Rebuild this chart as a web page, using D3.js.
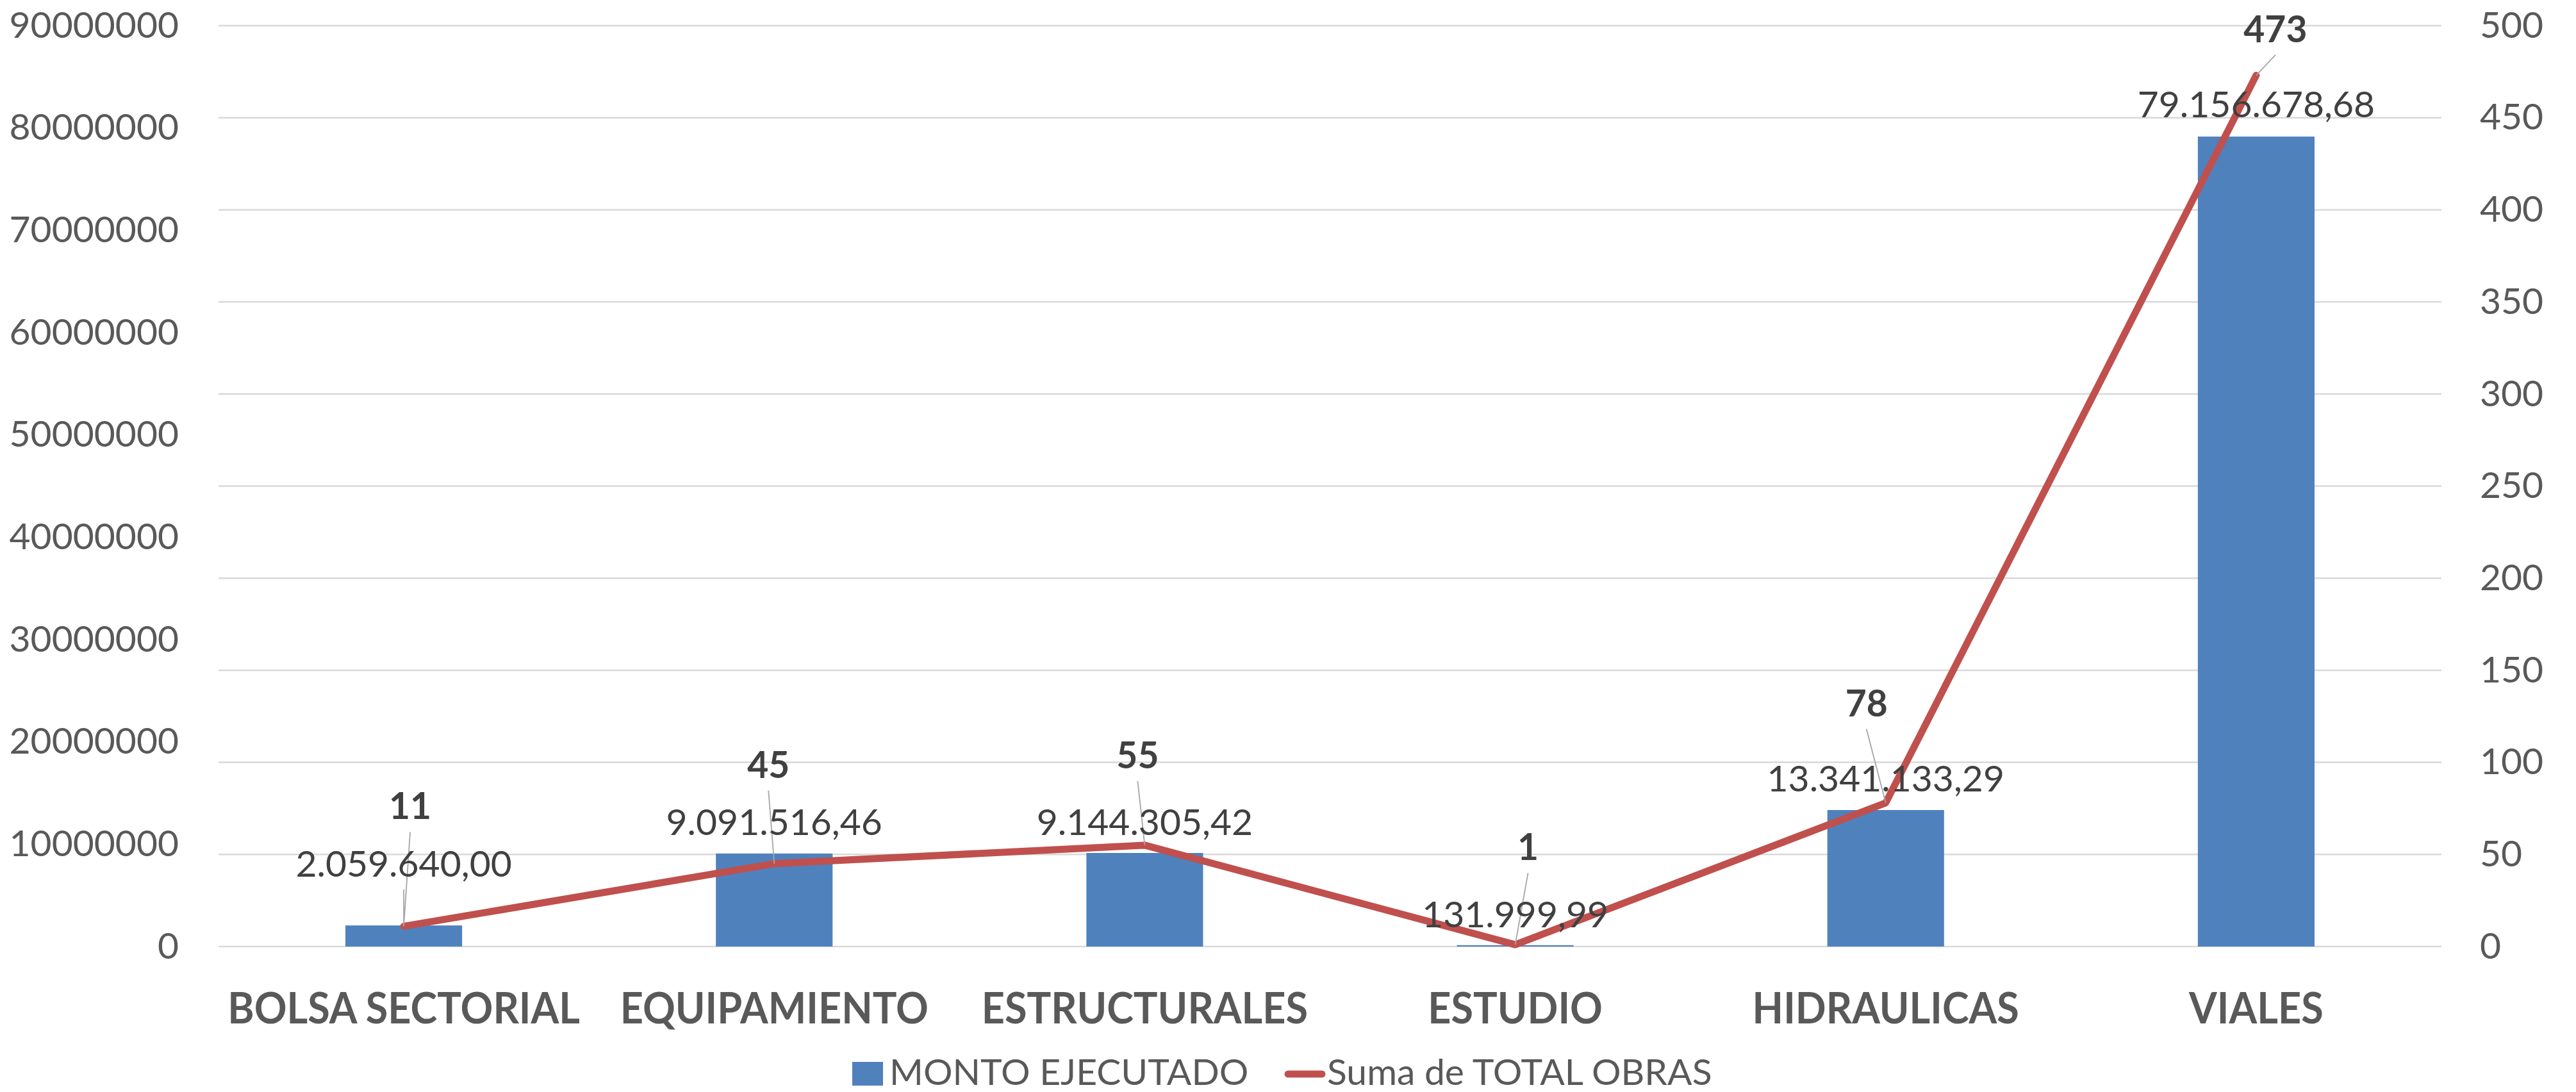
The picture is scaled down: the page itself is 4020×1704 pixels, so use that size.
<!DOCTYPE html>
<html>
<head>
<meta charset="utf-8">
<title>Monto ejecutado / Total obras</title>
<style>
    body{
        margin:0;
        background:#ffffff;
    }
    .grid{
        stroke:#d9d9d9;
        stroke-width:2.5px;
    }
    .axis text{
        font-family:Lato, "Open Sans", sans-serif;
        font-size:57px;
        fill:#595959;
    }
    .axis path{
        display:none;
    }
    .leader{
        stroke:#a6a6a6;
        stroke-width:1.8px;
    }
</style>
</head>
<body>
<div id="chart"></div>
<script src="https://cdn.jsdelivr.net/npm/d3@7"></script>
<script>

// ---------------- datos ----------------
var categories = ["BOLSA SECTORIAL", "EQUIPAMIENTO", "ESTRUCTURALES", "ESTUDIO", "HIDRAULICAS", "VIALES"];
var montoEjecutado = [2059640.00, 9091516.46, 9144305.42, 131999.99, 13341133.29, 79156678.68];
var totalObras = [11, 45, 55, 1, 78, 473];
var leftTicks = [0, 10000000, 20000000, 30000000, 40000000, 50000000, 60000000, 70000000, 80000000, 90000000];
var rightTicks = [0, 50, 100, 150, 200, 250, 300, 350, 400, 450, 500];
var seriesNames = ["MONTO EJECUTADO", "Suma de TOTAL OBRAS"];

// etiquetas movidas a mano (dx, dy respecto al punto de la linea)
var obrasLabelShift = [[10, -167], [-9, -134], [-11, -120], [20, -132], [-30, -135], [30, -52]];
// distancia de la etiqueta de la barra sobre la barra
var montoLabelLift = [76, 29, 28, 28, 29, 30];

var width = 4020;
var height = 1704;
var plotLeft = 341, plotRight = 3810, plotTop = 40, plotBottom = 1477;
var blue = "#4f81bd";
var red = "#c0504d";
var font = "Lato, 'Open Sans', sans-serif";

var es = d3.formatLocale({decimal: ",", thousands: ".", grouping: [3], currency: ["", ""]});
var fmtMonto = es.format(",.2f");

var svg = d3.select("#chart")
            .append("svg")
            .attr("width", width)
            .attr("height", height);

svg.append("rect")
   .attr("width", width)
   .attr("height", height)
   .attr("fill", "#ffffff");

var xScale = d3.scaleBand()
                .domain(categories)
                .range([plotLeft, plotRight])
                .paddingInner(0.685)
                .paddingOuter(0.3425);

var cx = function(i){ return xScale(categories[i]) + xScale.bandwidth() / 2; };

var yLeft = d3.scaleLinear()
                .domain([0, 90000000])
                .range([plotBottom, plotTop]);

var yRight = d3.scaleLinear()
                .domain([0, 500])
                .range([plotBottom, plotTop]);

// lineas de cuadricula (eje secundario)
svg.selectAll(".grid")
   .data(rightTicks)
   .enter()
   .append("line")
   .attr("class", "grid")
   .attr("x1", plotLeft)
   .attr("x2", plotRight)
   .attr("y1", function(d){ return yRight(d); })
   .attr("y2", function(d){ return yRight(d); });

// ejes
svg.append("g")
   .attr("class", "axis")
   .attr("transform", "translate(" + plotLeft + ",0)")
   .call(d3.axisLeft(yLeft).tickValues(leftTicks).tickSize(0).tickPadding(62).tickFormat(d3.format("d")));

svg.append("g")
   .attr("class", "axis")
   .attr("transform", "translate(" + plotRight + ",0)")
   .call(d3.axisRight(yRight).tickValues(rightTicks).tickSize(0).tickPadding(60).tickFormat(d3.format("d")));

// categorias (algo comprimidas, como Calibri)
svg.selectAll(".cat")
   .data(categories)
   .enter()
   .append("text")
   .attr("class", "cat")
   .attr("transform", function(d, i){ return "translate(" + cx(i) + ",1597) scale(0.94,1)"; })
   .attr("text-anchor", "middle")
   .attr("font-family", font)
   .attr("font-weight", "bold")
   .attr("font-size", "67px")
   .attr("fill", "#595959")
   .text(function(d){ return d; });

// barras
svg.selectAll(".bar")
   .data(montoEjecutado)
   .enter()
   .append("rect")
   .attr("class", "bar")
   .attr("fill", blue)
   .attr("x", function(d, i){ return xScale(categories[i]); })
   .attr("y", function(d){ return yLeft(d); })
   .attr("width", xScale.bandwidth())
   .attr("height", function(d){ return plotBottom - yLeft(d); });

// linea
var line = d3.line()
            .x(function(d, i){ return cx(i); })
            .y(function(d){ return yRight(d); });

svg.append("path")
   .datum(totalObras)
   .attr("d", line)
   .attr("fill", "none")
   .attr("stroke", red)
   .attr("stroke-width", 11)
   .attr("stroke-linejoin", "round")
   .attr("stroke-linecap", "round");

// lineas guia
montoEjecutado.forEach(function(d, i){
    var lift = montoLabelLift[i];
    if (lift > 50) {
        svg.append("line")
           .attr("class", "leader")
           .attr("x1", cx(i)).attr("y1", yLeft(d) - lift + 20)
           .attr("x2", cx(i)).attr("y2", yLeft(d));
    }
});

totalObras.forEach(function(d, i){
    var s = obrasLabelShift[i];
    svg.append("line")
       .attr("class", "leader")
       .attr("x1", cx(i) + s[0]).attr("y1", yRight(d) + s[1] + 20)
       .attr("x2", cx(i)).attr("y2", yRight(d));
});

// etiquetas de datos
svg.selectAll(".montoLabel")
   .data(montoEjecutado)
   .enter()
   .append("text")
   .attr("class", "montoLabel")
   .attr("x", function(d, i){ return cx(i); })
   .attr("y", function(d, i){ return yLeft(d) - montoLabelLift[i]; })
   .attr("text-anchor", "middle")
   .attr("font-family", font)
   .attr("font-size", "57px")
   .attr("fill", "#404040")
   .text(function(d){ return fmtMonto(d); });

svg.selectAll(".obrasLabel")
   .data(totalObras)
   .enter()
   .append("text")
   .attr("class", "obrasLabel")
   .attr("x", function(d, i){ return cx(i) + obrasLabelShift[i][0]; })
   .attr("y", function(d, i){ return yRight(d) + obrasLabelShift[i][1]; })
   .attr("text-anchor", "middle")
   .attr("font-family", font)
   .attr("font-weight", "bold")
   .attr("font-size", "57px")
   .attr("fill", "#404040")
   .text(function(d){ return d; });

// leyenda
var legend = svg.append("g");

legend.append("rect")
      .attr("x", 1330).attr("y", 1657)
      .attr("width", 48).attr("height", 37)
      .attr("fill", blue);

legend.append("text")
      .attr("x", 1388).attr("y", 1693)
      .attr("font-family", font)
      .attr("font-size", "57px")
      .attr("fill", "#595959")
      .text(seriesNames[0]);

legend.append("line")
      .attr("x1", 2010).attr("x2", 2063)
      .attr("y1", 1676).attr("y2", 1676)
      .attr("stroke", red)
      .attr("stroke-width", 11)
      .attr("stroke-linecap", "round");

legend.append("text")
      .attr("x", 2071).attr("y", 1693)
      .attr("font-family", font)
      .attr("font-size", "57px")
      .attr("fill", "#595959")
      .text(seriesNames[1]);

</script>
</body>
</html>
